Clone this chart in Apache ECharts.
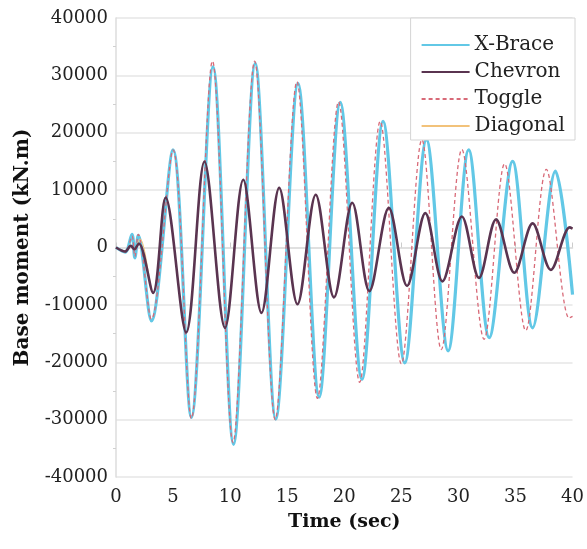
<!DOCTYPE html>
<html lang="en" style="height: 100%">
<head>
  <meta charset="utf-8">
</head>
<body style="height: 100%; margin: 0; background: #fff">
  <div id="container" style="height: 100%"></div>

  <script type="text/javascript" src="https://cdn.jsdelivr.net/npm/echarts@6/dist/echarts.min.js"></script>
  <script type="text/javascript">
// [time (sec), base moment (kN.m)]: start, peaks and troughs, end
var xBrace = [
  [0, 0], [0.8, -800], [1.4, 2300], [1.65, -1800], [1.95, 2100], [3.1, -12800],
  [5.0, 17000], [6.6, -29600], [8.5, 31500], [10.3, -34300], [12.2, 32100],
  [14.0, -29900], [15.95, 28600], [17.8, -26100], [19.65, 25300], [21.55, -23000],
  [23.4, 22000], [25.3, -20100], [27.2, 18800], [29.1, -18000], [30.9, 17000],
  [32.7, -15700], [34.75, 15000], [36.5, -14000], [38.5, 13300], [40, -8200]
];
var chevron = [
  [0, 0], [0.8, -700], [1.3, 300], [1.6, -300], [2.0, 700], [3.25, -7900],
  [4.35, 8700], [6.15, -14800], [7.75, 15000], [9.55, -14000], [11.15, 11800],
  [12.75, -11400], [14.3, 10400], [15.9, -9900], [17.5, 9200], [19.1, -8700],
  [20.7, 7800], [22.2, -7600], [23.9, 6900], [25.5, -6700], [27.1, 6000],
  [28.6, -5900], [30.3, 5400], [31.8, -5300], [33.3, 4900], [34.9, -4400],
  [36.5, 4200], [38.1, -3900], [39.75, 3500], [40, 3300]
];
var toggle = [
  [0, 0], [0.8, -800], [1.4, 2000], [1.65, -1600], [1.95, 2300], [3.1, -12500],
  [5.0, 17000], [6.6, -29800], [8.45, 32500], [10.25, -34000], [12.15, 32500],
  [13.95, -30000], [15.85, 28900], [17.65, -26300], [19.5, 25400], [21.35, -23500],
  [23.15, 22000], [25.0, -20300], [26.8, 18800], [28.5, -17800], [30.3, 17100],
  [32.25, -16000], [34.05, 14600], [35.9, -14500], [37.7, 13600], [39.7, -12300],
  [40, -12000]
];
var diagonal = [
  [0, 0], [0.8, -600], [1.3, 400], [1.6, -200], [2.1, 1500], [3.25, -7900],
  [4.35, 8700], [6.15, -14800], [7.75, 15000], [9.55, -14000], [11.15, 11800],
  [12.75, -11400], [14.3, 10400], [15.9, -9900], [17.5, 9200], [19.1, -8700],
  [20.7, 7800], [22.2, -7600], [23.9, 6900], [25.5, -6700], [27.1, 6000],
  [28.6, -5900], [30.3, 5400], [31.8, -5300], [33.3, 4900], [34.9, -4400],
  [36.5, 4200], [38.1, -3900], [39.75, 3500], [40, 3300]
];
var legendNames = ['X-Brace', 'Chevron', 'Toggle', 'Diagonal'];

    var dom = document.getElementById('container');
    var myChart = echarts.init(dom, null, { renderer: 'canvas' });
    var serif = '"DejaVu Serif", "Liberation Serif", serif';
    var axisGray = '#dcdcdc';

    // extrema only; a low smooth factor gives near-sine arcs between them
    function line(name, data, color, width, type, z) {
      return {
        name: name, type: 'line', data: data, smooth: 0.33, symbol: 'none', z: z,
        itemStyle: { color: color },
        lineStyle: { color: color, width: width, type: type || 'solid' }
      };
    }

    var option = {
      animation: false,
      backgroundColor: '#fff',
      grid: { left: 116, right: 12, top: 18, bottom: 72 },
      legend: {
        data: legendNames,
        orient: 'vertical',
        right: 12,
        top: 18,
        backgroundColor: '#fff',
        borderColor: '#d4d4d4',
        borderWidth: 1,
        padding: [17, 10, 4, 10],
        itemWidth: 48,
        itemHeight: 14,
        itemGap: 7,
        itemStyle: { opacity: 0, borderWidth: 0 },
        textStyle: { fontFamily: serif, fontSize: 20, color: '#222' }
      },
      xAxis: {
        type: 'value',
        min: 0,
        max: 40,
        interval: 5,
        name: 'Time (sec)',
        nameLocation: 'middle',
        nameGap: 36,
        nameTextStyle: { fontFamily: serif, fontSize: 19, fontWeight: 'bold', color: '#111' },
        axisLine: { lineStyle: { color: axisGray, width: 1.5 } },
        axisTick: { inside: true, length: 5, lineStyle: { color: '#cccccc' } },
        axisLabel: { fontFamily: serif, fontSize: 18, color: '#222', margin: 11 },
        splitLine: { show: false }
      },
      yAxis: {
        type: 'value',
        min: -40000,
        max: 40000,
        interval: 10000,
        name: 'Base moment (kN.m)',
        nameLocation: 'middle',
        nameGap: 83,
        nameTextStyle: { fontFamily: serif, fontSize: 20, fontWeight: 'bold', color: '#111' },
        axisLine: { show: true, lineStyle: { color: axisGray, width: 1.5 } },
        axisTick: { show: false },
        minorTick: { show: true, splitNumber: 2, length: 3, lineStyle: { color: '#d0d0d0' } },
        axisLabel: {
          fontFamily: serif, fontSize: 18, color: '#222', margin: 8,
          formatter: function (v) { return String(v); }
        },
        splitLine: { lineStyle: { color: '#e6e6e6', width: 1.5 } }
      },
      series: [
        line('X-Brace', xBrace, '#62c8e6', 3.2, 'solid', 2),
        line('Chevron', chevron, '#5a3450', 2.6, 'solid', 4),
        line('Toggle', toggle, '#d86a78', 1.3, [4, 3], 3),
        line('Diagonal', diagonal, '#f2c27a', 1, 'solid', 3)
      ]
    };

    myChart.setOption(option);
    window.addEventListener('resize', myChart.resize);
  </script>
</body>
</html>
